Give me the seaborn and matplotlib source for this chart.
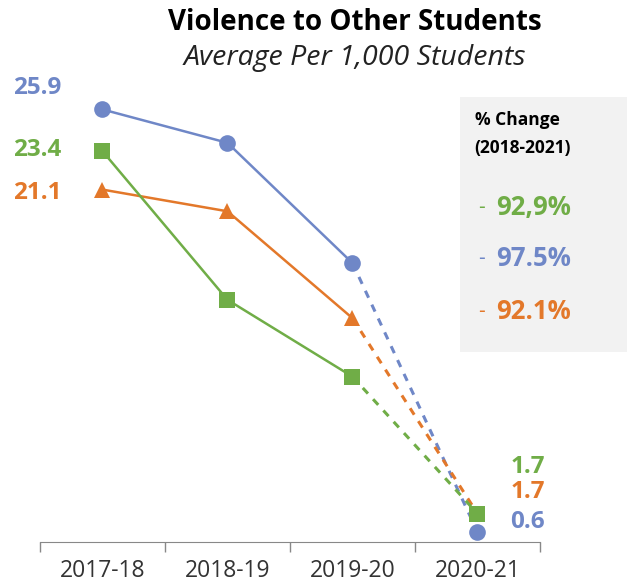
import seaborn as sns
import matplotlib.pyplot as plt

years = ["2017-18", "2018-19", "2019-20", "2020-21"]
blue_vals = [25.9, 23.9, 16.7, 0.6]
orange_vals = [21.1, 19.8, 13.4, 1.7]
green_vals = [23.4, 14.5, 9.9, 1.7]
pct_labels = ["92,9%", "97.5%", "92.1%"]

BLUE = "#6f87c7"
ORANGE = "#e3782a"
GREEN = "#70ad47"

sns.set_style("white")
plt.rcParams["font.family"] = ["Open Sans", "DejaVu Sans"]

fig = plt.figure(figsize=(6.27, 5.87), dpi=100)
ax = fig.add_axes([0.0638, 0.0767, 0.7974, 0.7966])

pos = list(range(len(years)))
series = [(blue_vals, BLUE, "o", 12), (orange_vals, ORANGE, "^", 12), (green_vals, GREEN, "s", 11)]
for vals, col, mk, ms in series:
    sns.lineplot(x=pos[:3], y=vals[:3], color=col, marker=mk, markersize=ms,
                 markeredgewidth=0, linewidth=1.8, ax=ax)
    sns.lineplot(x=pos[2:], y=vals[2:], color=col, linewidth=2.2, ax=ax,
                 linestyle=(0, (2.5, 2.5)))
    ax.plot(pos[3], vals[3], marker=mk, markersize=ms, color=col, markeredgewidth=0, zorder=5)

ax.set_xlim(-0.5, 3.5)
ax.set_ylim(0, 28)
ax.set_xticks(pos)
ax.set_xticklabels(years, fontsize=16.5, color="#333333")
ax.set_xticks([p - 0.5 for p in pos] + [3.5], minor=True)
ax.tick_params(axis="x", which="both", bottom=True)
ax.tick_params(axis="x", which="major", length=0, pad=12)
ax.tick_params(axis="x", which="minor", length=7, color="#888888", width=1)
ax.set_yticks([])
ax.set_xlabel("")
ax.set_ylabel("")
for s in ["top", "left", "right"]:
    ax.spines[s].set_visible(False)
ax.spines["bottom"].set_color("#888888")

# titles
fig.text(0.566, 0.962, "Violence to Other Students", ha="center", va="center",
         fontsize=20, fontweight="bold", color="black")
fig.text(0.566, 0.901, "Average Per 1,000 Students", ha="center", va="center",
         fontsize=20.5, style="italic", color="#222222")

# left value labels
for vals, col, yfig in [(blue_vals, BLUE, 0.850), (green_vals, GREEN, 0.744), (orange_vals, ORANGE, 0.671)]:
    fig.text(0.060, yfig, f"{vals[0]:.1f}", ha="center", va="center",
             fontsize=17.5, fontweight="bold", color=col)

# right value labels
for vals, col, yfig in [(green_vals, GREEN, 0.204), (orange_vals, ORANGE, 0.161), (blue_vals, BLUE, 0.110)]:
    fig.text(0.842, yfig, f"{vals[3]:.1f}", ha="center", va="center",
             fontsize=17.5, fontweight="bold", color=col)

# % change box
box = plt.Rectangle((0.734, 0.400), 0.27, 0.435, transform=fig.transFigure,
                    facecolor="#f2f2f2", edgecolor="none", zorder=0)
fig.patches.append(box)
fig.text(0.757, 0.795, "% Change", ha="left", va="center", fontsize=12.5,
         fontweight="bold", color="black")
fig.text(0.757, 0.748, "(2018-2021)", ha="left", va="center", fontsize=12.5,
         fontweight="bold", color="black")
for lab, col, yfig in zip(pct_labels, [GREEN, BLUE, ORANGE], [0.646, 0.559, 0.469]):
    fig.text(0.762, yfig, "-", ha="left", va="center", fontsize=15, color=col)
    fig.text(0.792, yfig, lab, ha="left", va="center", fontsize=18.5,
             fontweight="bold", color=col)

fig.savefig("out.png", dpi=100)
